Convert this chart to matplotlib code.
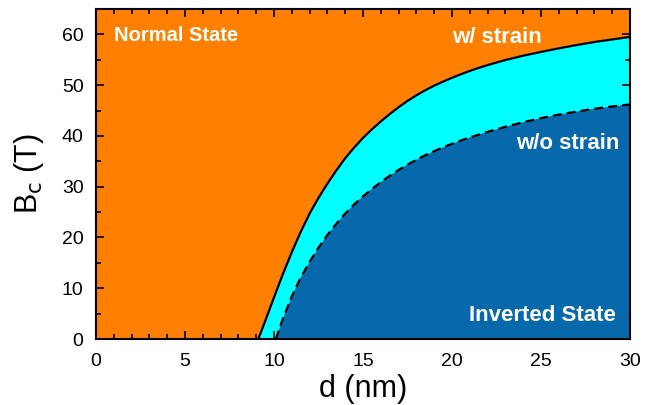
import matplotlib
matplotlib.use("Agg")
import matplotlib.pyplot as plt
from matplotlib.ticker import MultipleLocator

plt.rcParams['font.family'] = ['Liberation Sans', 'DejaVu Sans']

# Data
d_strain = [9.12, 9.5, 10.0, 10.5, 11.0, 11.5, 12.0, 12.5, 13.0, 13.5, 14.0, 14.5, 15.0,
            15.5, 16.0, 16.5, 17.0, 17.5, 18.0, 18.5, 19.0, 19.5, 20.0, 20.5, 21.0,
            21.5, 22.0, 23.0, 24.0, 25.0, 26.0, 27.0, 28.0, 29.0, 30.0]
B_strain = [0.0, 3.5, 8.2, 12.8, 17.1, 21.1, 24.7, 27.8, 30.6, 33.2, 35.6, 37.7, 39.6,
            41.3, 42.85, 44.3, 45.65, 46.9, 48.0, 49.0, 49.9, 50.7, 51.45, 52.15, 52.8,
            53.4, 53.95, 54.95, 55.8, 56.55, 57.25, 57.9, 58.5, 59.0, 59.5]
d_nostrain = [10.1, 10.5, 11.0, 11.5, 12.0, 12.5, 13.0, 13.5, 14.0, 14.5, 15.0, 15.5,
              16.0, 16.5, 17.0, 17.5, 18.0, 18.5, 19.0, 19.5, 20.0, 20.5, 21.0, 22.0,
              23.0, 24.0, 25.0, 26.0, 27.0, 28.0, 29.0, 30.0]
B_nostrain = [0.0, 4.0, 8.4, 12.1, 15.2, 18.0, 20.5, 22.7, 24.7, 26.5, 28.1, 29.55,
              30.9, 32.15, 33.3, 34.35, 35.3, 36.2, 37.0, 37.75, 38.45, 39.1, 39.7, 40.8,
              41.8, 42.7, 43.5, 44.2, 44.8, 45.35, 45.8, 46.2]

x_ticks = [0, 5, 10, 15, 20, 25, 30]
y_ticks = [0, 10, 20, 30, 40, 50, 60]

fig = plt.figure(figsize=(6.45, 4.05), dpi=100)
ax = fig.add_axes([96/645, (405-339)/405, (630-96)/645, (339-9)/405])

xmin, xmax, ymin, ymax = 0, 30, 0, 65
ax.set_facecolor('#FF8000')

xs = [d_strain[0]] + d_strain + [xmax]
ys = [0] + B_strain + [0]
ax.fill(xs, ys, color='#00FFFF', zorder=1, lw=0)
xs2 = [d_nostrain[0]] + d_nostrain + [xmax]
ys2 = [0] + B_nostrain + [0]
ax.fill(xs2, ys2, color='#0868AC', zorder=2, lw=0)

ax.plot(d_strain, B_strain, color='black', lw=1.6, zorder=3, solid_joinstyle='round')
ax.plot(d_nostrain, B_nostrain, color='black', lw=1.6, ls=(0, (4, 2.3)), zorder=3)

ax.set_xlim(xmin, xmax)
ax.set_ylim(ymin, ymax)
ax.set_xticks(x_ticks)
ax.set_yticks(y_ticks)
ax.xaxis.set_minor_locator(MultipleLocator(1))
ax.yaxis.set_minor_locator(MultipleLocator(5))
ax.tick_params(which='both', direction='in', top=True, right=True, width=1.2, labelsize=14)
ax.tick_params(axis='y', pad=9)
ax.tick_params(axis='x', pad=10)
ax.tick_params(which='major', length=6)
ax.tick_params(which='minor', length=3.5)
for s in ax.spines.values():
    s.set_linewidth(1.5)

ax.set_xlabel('d (nm)', fontsize=22, labelpad=3)
ax.set_ylabel(r'B$_\mathrm{c}$ (T)', fontsize=22, labelpad=11)

tk = dict(color='white', fontweight='bold', zorder=5)
ax.text(1.0, 59.8, 'Normal State', ha='left', va='center', fontsize=14.5, **tk)
ax.text(22.55, 59.3, 'w/ strain', ha='center', va='center', fontsize=16, **tk)
ax.text(29.4, 38.6, 'w/o strain', ha='right', va='center', fontsize=16, **tk)
ax.text(29.19, 4.6, 'Inverted State', ha='right', va='center', fontsize=16, **tk)

fig.savefig('out.png', dpi=100)
